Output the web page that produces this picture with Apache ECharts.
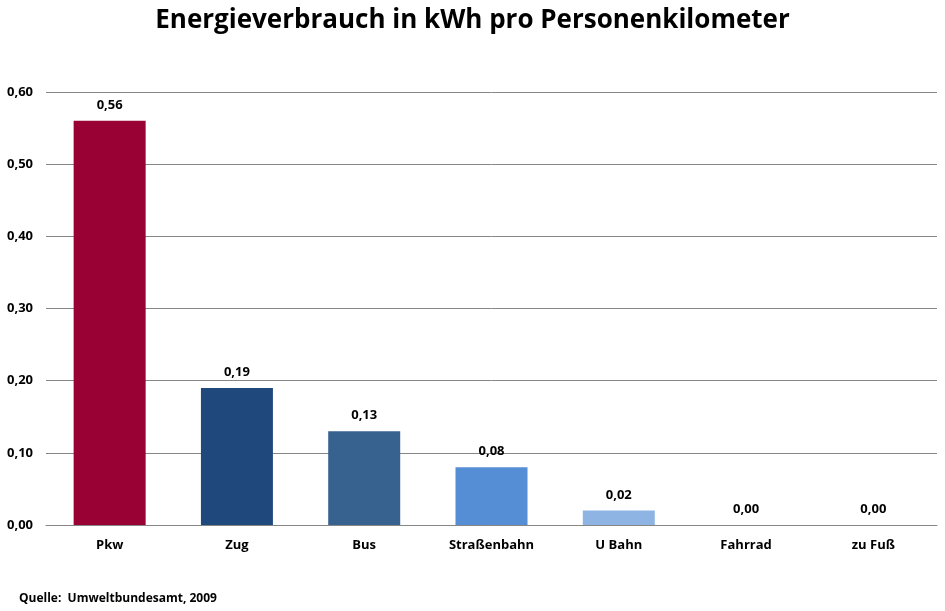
<!DOCTYPE html>
<html>
<head>
<meta charset="utf-8">
<script src="https://cdn.jsdelivr.net/npm/echarts@6/dist/echarts.min.js"></script>
<style>
  html, body { margin: 0; padding: 0; background: #fff; }
  #chart { width: 945px; height: 611px; }
</style>
</head>
<body>
<div id="chart"></div>
<script>
// Daten
var categories = ["Pkw", "Zug", "Bus", "Straßenbahn", "U Bahn", "Fahrrad", "zu Fuß"];
var values = [0.56, 0.19, 0.13, 0.08, 0.02, 0.00, 0.00];
var barColors = ["#990033", "#1F497D", "#37618F", "#558ED5", "#8EB4E3", "#8EB4E3", "#8EB4E3"];

var FONT = "'Open Sans', 'Liberation Sans', sans-serif";
var fmt = function (v) { return v.toFixed(2).replace(".", ","); };

var chart = echarts.init(document.getElementById("chart"));
chart.setOption({
  animation: false,
  title: [
    {
      text: "Energieverbrauch in kWh pro Personenkilometer",
      left: "center",
      top: 3,
      textStyle: { fontFamily: FONT, fontSize: 26, fontWeight: "bold", color: "#000" }
    },
    {
      text: "Quelle:  Umweltbundesamt, 2009",
      left: 14,
      top: 588,
      textStyle: { fontFamily: FONT, fontSize: 12, fontWeight: "bold", color: "#000" }
    }
  ],
  grid: { left: 46, right: 8, top: 92, bottom: 86, outerBoundsMode: "none" },
  xAxis: {
    type: "category",
    data: categories,
    axisTick: { show: false },
    axisLine: { lineStyle: { color: "#868686" } },
    axisLabel: { margin: 14, fontFamily: FONT, fontSize: 13, fontWeight: "bold", color: "#000" }
  },
  yAxis: {
    type: "value",
    min: 0,
    max: 0.6,
    interval: 0.1,
    axisLine: { show: false },
    axisTick: { show: false },
    splitLine: { lineStyle: { color: "#868686" } },
    axisLabel: {
      margin: 13,
      fontFamily: FONT, fontSize: 13, fontWeight: "bold", color: "#000",
      formatter: fmt
    }
  },
  series: [{
    type: "bar",
    barWidth: 72,
    data: values.map(function (v, i) {
      return { value: v, itemStyle: { color: barColors[i] } };
    }),
    label: {
      show: true,
      position: "top",
      distance: 9,
      fontFamily: FONT, fontSize: 13, fontWeight: "bold", color: "#000",
      formatter: function (p) { return fmt(p.value); }
    }
  }]
});
</script>
</body>
</html>
